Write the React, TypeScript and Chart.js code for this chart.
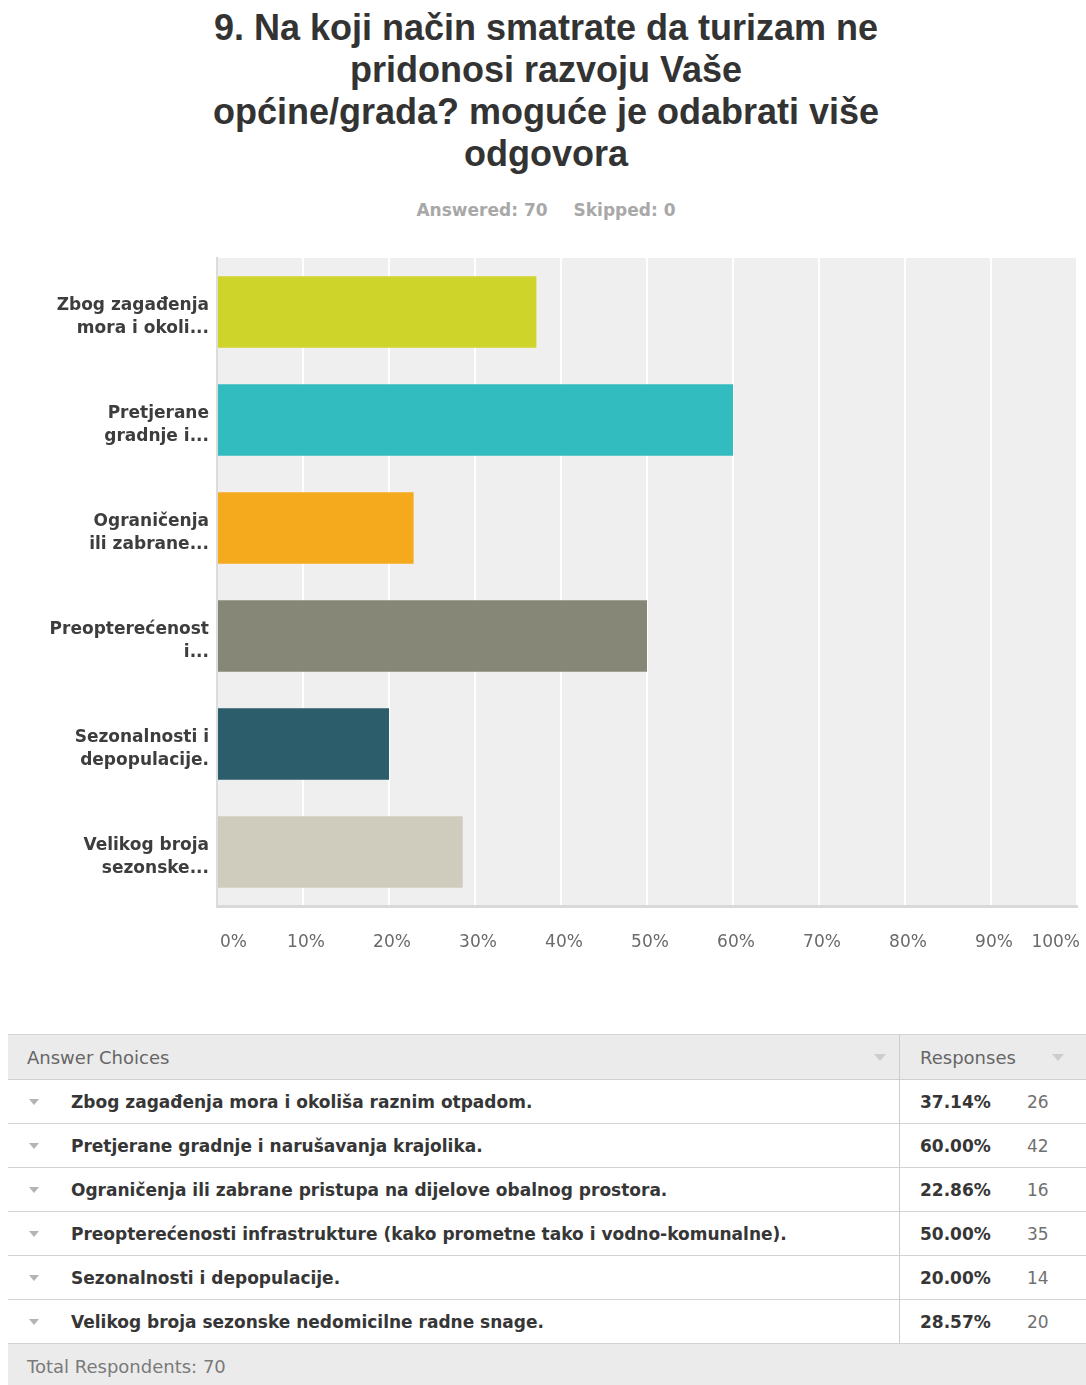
import React, { useEffect, useRef } from 'react';
import { Chart, registerables } from 'chart.js';

Chart.register(...registerables);

const titleLines = [
  '9. Na koji način smatrate da turizam ne',
  'pridonosi razvoju Vaše',
  'općine/grada? moguće je odabrati više',
  'odgovora',
];
const answeredCount = 70;
const skippedCount = 0;

const axisLabels = [
  ['Zbog zagađenja', 'mora i okoli...'],
  ['Pretjerane', 'gradnje i...'],
  ['Ograničenja', 'ili zabrane...'],
  ['Preopterećenost', 'i...'],
  ['Sezonalnosti i', 'depopulacije.'],
  ['Velikog broja', 'sezonske...'],
];
const answerChoices = [
  'Zbog zagađenja mora i okoliša raznim otpadom.',
  'Pretjerane gradnje i narušavanja krajolika.',
  'Ograničenja ili zabrane pristupa na dijelove obalnog prostora.',
  'Preopterećenosti infrastrukture (kako prometne tako i vodno-komunalne).',
  'Sezonalnosti i depopulacije.',
  'Velikog broja sezonske nedomicilne radne snage.',
];
const percentValues = [37.14, 60.0, 22.86, 50.0, 20.0, 28.57];
const responseCounts = [26, 42, 16, 35, 14, 20];
const barColors = ['#cfd42b', '#33bcbf', '#f5aa1e', '#878777', '#2c5d6b', '#cfccbe'];
const totalRespondents = 70;

const plotBackground = {
  id: 'plotBackground',
  beforeDraw(chart: any) {
    const { ctx, chartArea } = chart;
    ctx.save();
    ctx.fillStyle = '#efefef';
    ctx.fillRect(chartArea.left, chartArea.top, chartArea.width, chartArea.height);
    ctx.restore();
  },
};

const FONT = "'DejaVu Sans', Verdana, sans-serif";

function Caret({ size, color, left, top }: { size: number; color: string; left: number; top: number }) {
  return (
    <span
      style={{
        position: 'absolute',
        left,
        top,
        display: 'block',
        width: 0,
        height: 0,
        lineHeight: 0,
        fontSize: 0,
        borderLeft: `${size}px solid transparent`,
        borderRight: `${size}px solid transparent`,
        borderTop: `${Math.round(size * 1.1)}px solid ${color}`,
      }}
    />
  );
}

export default function App() {
  const canvasRef = useRef<HTMLCanvasElement | null>(null);

  useEffect(() => {
    const canvas = canvasRef.current;
    if (!canvas) return;
    const chart = new Chart(canvas, {
      type: 'bar',
      data: {
        labels: axisLabels,
        datasets: [
          {
            data: percentValues,
            backgroundColor: barColors,
            borderWidth: 0,
            barPercentage: 0.66,
            categoryPercentage: 1,
          },
        ],
      },
      options: {
        indexAxis: 'y',
        responsive: false,
        animation: false,
        layout: { padding: { top: 18, right: 9, left: 0, bottom: 0 } },
        plugins: {
          legend: { display: false },
          tooltip: { enabled: false },
          title: { display: false },
        },
        scales: {
          x: {
            min: 0,
            max: 100,
            afterFit(scale: any) {
              scale.height = 74;
              scale.paddingLeft = 0;
              scale.paddingRight = 0;
            },
            ticks: {
              stepSize: 10,
              autoSkip: false,
              maxRotation: 0,
              align: 'inner',
              labelOffset: 3,
              padding: 26,
              color: '#6a6a6a',
              font: { family: FONT, size: 17 },
              callback: (v: any) => `${v}%`,
            },
            grid: { color: '#ffffff', lineWidth: 2, drawTicks: false },
            border: { display: true, color: '#d9d9d9', width: 3 },
          },
          y: {
            afterFit(scale: any) {
              scale.width = 217;
              scale.paddingTop = 0;
              scale.paddingBottom = 0;
            },
            ticks: {
              padding: 8,
              labelOffset: 5,
              color: '#3d3d3d',
              font: { family: FONT, size: 17, weight: 'bold', lineHeight: 1.35 },
            },
            grid: { display: false, drawTicks: false },
            border: { display: true, color: '#dcdcdc', width: 2 },
          },
        },
      },
      plugins: [plotBackground],
    } as any);
    return () => chart.destroy();
  }, []);

  const rowHeight = 44;

  return (
    <div
      style={{
        position: 'absolute',
        left: 0,
        top: 0,
        width: 1086,
        height: 1385,
        overflow: 'hidden',
        background: '#ffffff',
      }}
    >
      <div
        style={{
          position: 'absolute',
          top: 7,
          left: 3,
          width: 1086,
          textAlign: 'center',
          fontFamily: "'Liberation Sans', Arial, sans-serif",
          fontWeight: 'bold',
          fontSize: 36,
          lineHeight: '42px',
          color: '#333333',
        }}
      >
        {titleLines.map((l, i) => (
          <div key={i}>{l}</div>
        ))}
      </div>
      <div
        style={{
          position: 'absolute',
          top: 198,
          left: 3,
          width: 1086,
          textAlign: 'center',
          fontFamily: FONT,
          fontWeight: 'bold',
          fontSize: 17,
          lineHeight: '24px',
          color: '#a8a8a8',
        }}
      >
        <span>Answered: {answeredCount}</span>
        <span style={{ marginLeft: 26 }}>Skipped: {skippedCount}</span>
      </div>

      <div style={{ position: 'absolute', top: 240, left: 0, width: 1086, height: 740 }}>
        <canvas ref={canvasRef} width={1086} height={740} style={{ display: 'block' }} />
      </div>

      <div style={{ position: 'absolute', top: 1034, left: 8, width: 1078, fontFamily: FONT }}>
        <div
          style={{
            display: 'flex',
            height: 46,
            background: '#ebebeb',
            borderTop: '1px solid #d4d4d4',
            borderBottom: '1px solid #cfcfcf',
            boxSizing: 'border-box',
            color: '#666666',
            fontSize: 18,
          }}
        >
          <div
            style={{
              width: 892,
              borderRight: '1px solid #cccccc',
              boxSizing: 'border-box',
              display: 'flex',
              alignItems: 'center',
              paddingLeft: 19,
              position: 'relative',
            }}
          >
            Answer Choices
            <Caret size={6} color="#cccccc" left={866} top={19} />
          </div>
          <div
            style={{
              flex: 1,
              display: 'flex',
              alignItems: 'center',
              paddingLeft: 20,
              position: 'relative',
            }}
          >
            Responses
            <Caret size={6} color="#cccccc" left={152} top={19} />
          </div>
        </div>
        {answerChoices.map((c, i) => (
          <div
            key={i}
            style={{
              display: 'flex',
              height: rowHeight,
              borderBottom: '1px solid #d2d2d2',
              boxSizing: 'border-box',
              background: '#ffffff',
            }}
          >
            <div
              style={{
                width: 892,
                borderRight: '1px solid #cccccc',
                boxSizing: 'border-box',
                display: 'flex',
                alignItems: 'center',
                position: 'relative',
                paddingLeft: 63,
                fontSize: 17,
                fontWeight: 'bold',
                color: '#363636',
                whiteSpace: 'nowrap',
              }}
            >
              <Caret size={5} color="#b4b4b4" left={21} top={19} />
              {c}
            </div>
            <div
              style={{
                flex: 1,
                display: 'flex',
                alignItems: 'center',
                paddingLeft: 20,
                fontSize: 17,
              }}
            >
              <span style={{ fontWeight: 'bold', color: '#363636', width: 107, display: 'inline-block' }}>
                {percentValues[i].toFixed(2)}%
              </span>
              <span style={{ color: '#707070' }}>{responseCounts[i]}</span>
            </div>
          </div>
        ))}
        <div
          style={{
            height: 44,
            background: '#ebebeb',
            display: 'flex',
            alignItems: 'center',
            paddingLeft: 19,
            color: '#7a7a7a',
            fontSize: 18,
          }}
        >
          Total Respondents: {totalRespondents}
        </div>
      </div>
    </div>
  );
}
